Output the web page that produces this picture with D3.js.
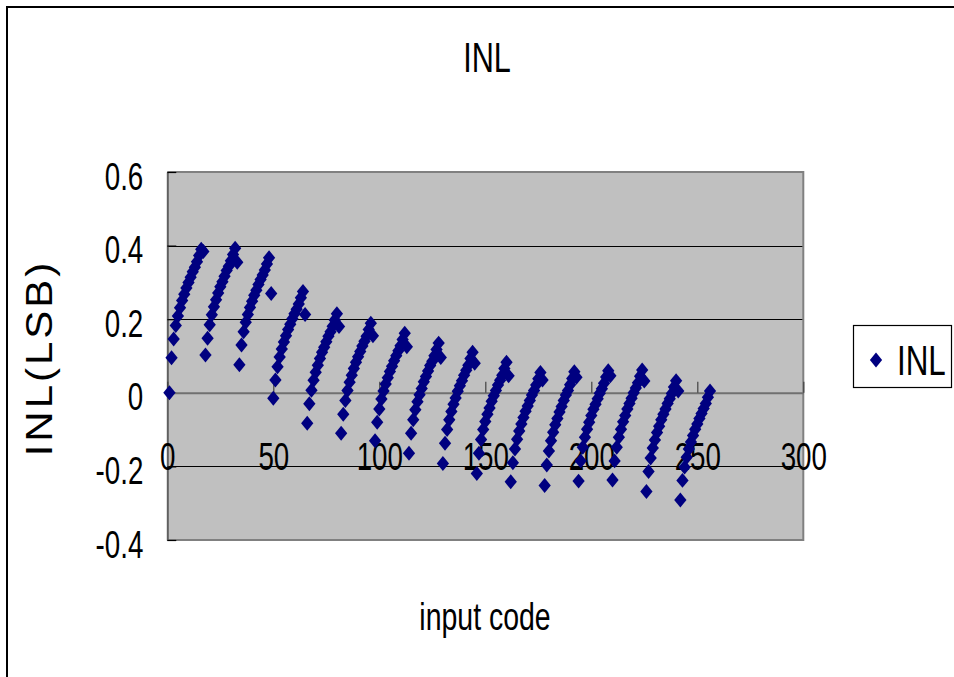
<!DOCTYPE html>
<html>
<head>
<meta charset="utf-8">
<script src="https://cdn.jsdelivr.net/npm/d3@7"></script>
<style>
  html, body { margin: 0; padding: 0; background: #ffffff; }
  svg { display: block; }
  text { font-family: "Liberation Sans", Arial, sans-serif; fill: #000; }
</style>
</head>
<body>
<svg id="chart" width="954" height="677"></svg>
<script>
// INL (LSB) measured for input codes 1..256, grouped by 16-code segment
const seg00 = [0.000, 0.095, 0.146, 0.183, 0.209, 0.231, 0.251, 0.268, 0.285, 0.300, 0.314, 0.329, 0.341, 0.356, 0.373, 0.390, 0.384];
const seg01 = [0.103, 0.148, 0.185, 0.212, 0.234, 0.253, 0.271, 0.288, 0.302, 0.317, 0.332, 0.344, 0.359, 0.376, 0.393, 0.355];
const seg02 = [0.076, 0.130, 0.166, 0.192, 0.213, 0.232, 0.249, 0.265, 0.279, 0.294, 0.308, 0.320, 0.334, 0.350, 0.367, 0.270];
const seg03 = [-0.015, 0.035, 0.071, 0.097, 0.119, 0.138, 0.155, 0.172, 0.186, 0.201, 0.215, 0.227, 0.241, 0.258, 0.275, 0.213];
const seg04 = [-0.083, -0.030, 0.007, 0.034, 0.056, 0.075, 0.093, 0.110, 0.124, 0.139, 0.154, 0.166, 0.181, 0.198, 0.215, 0.180];
const seg05 = [-0.110, -0.058, -0.021, 0.006, 0.029, 0.048, 0.066, 0.083, 0.098, 0.112, 0.127, 0.140, 0.154, 0.172, 0.189, 0.155];
const seg06 = [-0.130, -0.080, -0.044, -0.017, 0.005, 0.024, 0.041, 0.058, 0.072, 0.087, 0.101, 0.114, 0.128, 0.145, 0.162, 0.125];
const seg07 = [-0.164, -0.110, -0.073, -0.046, -0.024, -0.005, 0.012, 0.030, 0.044, 0.059, 0.074, 0.086, 0.101, 0.118, 0.135, 0.096];
const seg08 = [-0.192, -0.137, -0.100, -0.073, -0.051, -0.031, -0.014, 0.004, 0.019, 0.033, 0.048, 0.061, 0.075, 0.093, 0.110, 0.080];
const seg09 = [-0.219, -0.164, -0.127, -0.100, -0.078, -0.058, -0.041, -0.023, -0.008, 0.006, 0.021, 0.034, 0.048, 0.066, 0.083, 0.046];
const seg10 = [-0.242, -0.190, -0.153, -0.126, -0.104, -0.085, -0.067, -0.050, -0.036, -0.021, -0.006, 0.006, 0.021, 0.038, 0.055, 0.035];
const seg11 = [-0.252, -0.196, -0.158, -0.130, -0.107, -0.087, -0.070, -0.052, -0.037, -0.021, -0.006, 0.006, 0.022, 0.039, 0.057, 0.042];
const seg12 = [-0.240, -0.185, -0.148, -0.121, -0.099, -0.080, -0.062, -0.045, -0.031, -0.016, -0.001, 0.011, 0.026, 0.043, 0.060, 0.046];
const seg13 = [-0.237, -0.185, -0.148, -0.121, -0.099, -0.079, -0.062, -0.044, -0.029, -0.015, 0.000, 0.013, 0.027, 0.045, 0.062, 0.032];
const seg14 = [-0.268, -0.214, -0.177, -0.150, -0.128, -0.108, -0.091, -0.073, -0.058, -0.044, -0.029, -0.016, -0.002, 0.016, 0.033, 0.005];
const seg15 = [-0.291, -0.238, -0.202, -0.175, -0.153, -0.134, -0.116, -0.099, -0.085, -0.070, -0.056, -0.043, -0.029, -0.012, 0.005];

const firstCode = 1;
const xTicks = [0, 50, 100, 150, 200, 250, 300];
const xTickLabels = ["0", "50", "100", "150", "200", "250", "300"];
const yTicks = [-0.4, -0.2, 0, 0.2, 0.4, 0.6];
const yTickLabels = ["-0.4", "-0.2", "0", "0.2", "0.4", "0.6"];
const seriesName = "INL";
const chartTitle = "INL";
const xTitle = "input code";
const yTitle = "INL(LSB)";

const inl = [].concat(seg00, seg01, seg02, seg03, seg04, seg05, seg06, seg07,
                      seg08, seg09, seg10, seg11, seg12, seg13, seg14, seg15);
const points = inl.map((v, i) => ({ code: firstCode + i, value: v }));

// ---- layout ----
const svg = d3.select("#chart");
const plot = { left: 167.3, right: 803.3, top: 172, bottom: 540 };
const SX = 0.73;          // narrow text face
const FONT = 38;
const navy = "#000080";

const x = d3.scaleLinear().domain([0, 300]).range([plot.left, plot.right]);
const y = d3.scaleLinear().domain([-0.4, 0.6]).range([plot.bottom, plot.top]);

function label(parent, tx, ty, str, anchor, size, extra) {
  return parent.append("text")
    .attr("transform", `translate(${tx},${ty}) scale(${SX},1)` + (extra || ""))
    .attr("text-anchor", anchor)
    .attr("font-size", size)
    .text(str);
}

// outer chart frame (left and top edges inside the page)
svg.append("path")
  .attr("d", `M7,690 L7,7 L960,7`)
  .attr("fill", "none").attr("stroke", "#000").attr("stroke-width", 2);

// plot area
svg.append("rect")
  .attr("x", plot.left).attr("y", plot.top)
  .attr("width", plot.right - plot.left).attr("height", plot.bottom - plot.top)
  .attr("fill", "#c0c0c0");

// horizontal gridlines
svg.append("g").selectAll("line")
  .data(yTicks.filter(d => d > -0.4 && d < 0.6))
  .join("line")
  .attr("x1", plot.left).attr("x2", plot.right)
  .attr("y1", d => Math.round(y(d)) + 0.5).attr("y2", d => Math.round(y(d)) + 0.5)
  .attr("stroke", "#000").attr("stroke-width", 1);

// plot border (top, right, bottom)
svg.append("path")
  .attr("d", `M${plot.left},${plot.top} L${plot.right},${plot.top} L${plot.right},${plot.bottom} L${plot.left},${plot.bottom}`)
  .attr("fill", "none").attr("stroke", "#808080").attr("stroke-width", 2);

// y axis
const yAxis = svg.append("g")
  .attr("transform", `translate(${plot.left},0)`)
  .call(d3.axisLeft(y).tickValues(yTicks).tickSizeInner(-9).tickSizeOuter(0)
        .tickFormat((d, i) => yTickLabels[i]));
yAxis.select(".domain").attr("stroke", "#606060").attr("stroke-width", 2);
yAxis.selectAll(".tick line").attr("stroke", "#000").attr("stroke-width", 1.2);
yAxis.selectAll(".tick text")
  .attr("x", null).attr("dy", null)
  .attr("font-size", FONT).attr("text-anchor", "end")
  .attr("font-family", null)
  .attr("transform", `translate(-24,17) scale(${SX},1)`);

// x axis crossing at zero
const xAxis = svg.append("g")
  .attr("transform", `translate(0,${y(0)})`)
  .call(d3.axisBottom(x).tickValues(xTicks).tickSizeInner(-11).tickSizeOuter(0)
        .tickFormat((d, i) => xTickLabels[i]));
xAxis.select(".domain").attr("stroke", "#707070").attr("stroke-width", 2);
xAxis.selectAll(".tick line").attr("stroke", "#404040").attr("stroke-width", 1.2);
xAxis.selectAll(".tick text")
  .attr("y", null).attr("dy", null)
  .attr("font-size", FONT).attr("text-anchor", "middle")
  .attr("font-family", null)
  .attr("transform", `translate(0,77) scale(${SX},1)`);
svg.selectAll(".tick text").attr("fill", "#000");

// data markers: navy diamonds
const diamond = d3.symbol().type(d3.symbolDiamond2).size(143)();
svg.append("g").selectAll("path")
  .data(points)
  .join("path")
  .attr("d", diamond)
  .attr("transform", d => `translate(${x(d.code)},${y(d.value)}) scale(0.82,1)`)
  .attr("fill", navy);

// titles
label(svg, 487, 72, chartTitle, "middle", 42);
label(svg, 485, 630, xTitle, "middle", 39);
svg.append("text")
  .attr("transform", "translate(52,358) scale(0.9,1) rotate(-90)")
  .attr("text-anchor", "middle")
  .attr("font-size", 42)
  .attr("letter-spacing", 3)
  .text(yTitle);

// legend
const lg = svg.append("g");
lg.append("rect").attr("x", 853.5).attr("y", 325.5).attr("width", 98).attr("height", 62)
  .attr("fill", "#fff").attr("stroke", "#000").attr("stroke-width", 1.2);
lg.append("path").attr("d", diamond)
  .attr("transform", `translate(876,360) scale(0.82,1)`).attr("fill", navy);
label(lg, 897, 375, seriesName, "start", 43);
</script>
</body>
</html>
